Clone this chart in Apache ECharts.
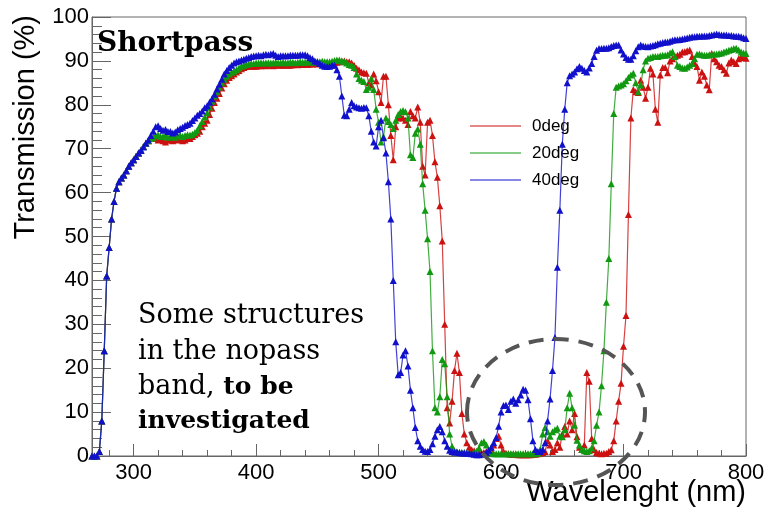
<!DOCTYPE html>
<html><head><meta charset="utf-8">
<script src="https://cdn.jsdelivr.net/npm/echarts@6/dist/echarts.min.js"></script>
<style>html,body{margin:0;padding:0;background:#fff}#c{width:767px;height:509px}</style>
</head><body><div id="c"></div>
<script>
const wavelength = [
266,268,270,272,274,276,278,280,282,284,286,288,290,292,294,296,298,300,302,304,306,308,310,312,314,316,
318,320,322,324,326,328,330,332,334,336,338,340,342,344,346,348,350,352,354,356,358,360,
362,364,366,368,370,372,374,376,378,380,382,384,386,388,390,392,394,396,398,400,
402,404,406,408,410,412,414,416,418,420,422,424,426,428,430,432,434,436,438,440,442,444,446,448,450,452,454,456,458,460,
462,464,466,468,470,472,474,476,478,480,482,484,486,488,490,492,494,496,498,500,
502,504,506,508,510,512,514,516,518,520,522,524,526,528,530,532,534,536,538,540,
542,544,546,548,550,552,554,556,558,560,562,564,566,568,570,572,574,576,578,580,
582,584,586,588,590,592,594,596,598,600,602,604,606,608,610,612,614,616,618,620,
622,624,626,628,630,632,634,636,638,640,642,644,646,648,650,652,654,656,658,660,
662,664,666,668,670,672,674,676,678,680,682,684,686,688,690,692,694,696,698,700,
702,704,706,708,710,712,714,716,718,720,722,724,726,728,730,732,734,736,738,740,
742,744,746,748,750,752,754,756,758,760,762,764,766,768,770,772,774,776,778,780,
782,784,786,788,790,792,794,796,798,800];

const tr0 = [
0,0,0,1,8,24,41,47.5,54,58,61,62.5,63.3,64,65,66,66.8,67.5,68.3,69,69.7,70.5,71.2,71.8,72.3,72.5,
72.3,72,72.2,71.8,71.5,72,72,71.8,72.2,72,72.3,71.8,72,72.5,72.3,72.8,73.2,73.5,74,75,75.8,76.5,
77.8,79.2,80.5,81.5,82.6,83.8,84.8,85.6,86.2,86.6,87,87.5,87.8,88.2,88.5,88.7,88.8,88.8,88.8,88.8,
88.9,88.9,89,88.9,89,89,88.9,89,89.1,89,89,89.1,89,89,89.1,89.2,89.1,89.2,89.2,89.3,89.2,89.3,89.3,89.4,89.3,89.4,89.4,89.4,89.5,89.4,
89.5,89.6,89.7,89.8,89.9,90,89.8,89.8,89.5,89,88.3,88,87.5,87.3,87.2,85,84.5,87,85.5,83,
80.5,86.5,86.5,80,73,67.5,75,77,77.3,77,76.5,75.5,78.5,77.5,77,79.5,76,66,64,76,
76.5,73,67,63.5,57,49,30,11,7.5,12.5,19.5,23.4,19,9.7,5,3,2,1.4,1.2,1,
0.8,0.8,0.8,1,1.2,1.5,2.5,4,4.5,2.5,1,0.6,0.5,0.4,0.4,0.4,0.3,0.3,0.3,0.3,
0.3,0.3,0.4,0.4,0.5,0.6,0.8,1,3.5,2.5,1,1.5,3,2,5,6.7,5,8,6,9.7,
4.4,2,1.5,2.5,19,17,4,1.4,0.8,0.6,0.5,0.6,0.6,1,1.4,3.5,8,12.5,16.6,25,
32,55,77,83.5,83,82.8,85.6,84,81.5,84,88.3,87,79,76,86.8,88.5,88.5,87.3,90,90.5,
91,91.3,91.5,92,92.1,92.3,92.5,91,89.5,88.7,85.6,87.5,86.5,84.5,83.4,91.7,90.5,89.8,89,88.7,
88,87.2,89.5,90.2,89.8,89.4,90.5,91,90.8,90.6];

const tr20 = [
0,0,0,1,8,24,41,47.5,54,58,61,62.5,63.3,64,65,66,66.8,67.5,68.3,69,69.7,70.5,71.2,71.8,72.3,72.5,
73,73.2,72.8,72.8,73,72.6,72.7,72.8,72.6,72.9,73,72.8,73,73.2,73.1,73.3,73.7,74.2,75.2,76.2,77.2,78.2,
79.5,80.8,82,83,84,85,85.8,86.5,87,87.4,87.7,88,88.4,88.8,89,89.2,89.3,89.4,89.4,89.5,
89.5,89.6,89.5,89.6,89.6,89.5,89.6,89.7,89.6,89.6,89.7,89.6,89.6,89.7,89.7,89.6,89.7,89.8,89.7,89.7,89.8,89.8,89.7,89.8,89.8,89.8,89.9,89.8,89.8,89.8,
89.9,90.1,90.2,90.2,90,89.8,89.5,89.2,89,88.5,87,86,85.6,85.3,83.5,84,86,83.5,79,76,
71.5,72.7,77,76.2,75.5,74.6,76.5,77.8,78.5,78.7,78.4,77,68.6,68,73.5,74.5,71,62,56,49.5,
42,24,11,10,13.5,22,21,13.5,5,2.2,1.2,0.9,0.8,0.8,0.8,0.7,0.7,0.7,0.8,1,
1.8,3,3.3,2.5,1.2,0.7,0.5,0.5,0.5,0.5,0.5,0.5,0.5,0.5,0.5,0.5,0.5,0.5,0.5,0.5,
0.5,0.5,0.5,0.5,0.6,1.5,5,6.5,5.5,4.5,5.5,6,6.3,4.5,4.4,6,11,14.3,11,7,
3.6,2.5,1.5,1.2,1,1.2,1.8,3.5,7,10,16,24,35,45,62,78,84,84.3,84.5,84.8,
85.5,86.2,86.8,87.2,85,83,84.5,88,90,90.6,90.8,91,91,91,91.2,91.3,91.3,91.4,91.8,92.1,
91,89,88.7,88.4,88.3,88.6,89,89.4,90.5,91.5,91.6,91.4,91.3,91.3,91.4,91.5,91.6,91.6,91.7,91.8,
92,92.2,92.4,92.6,92.8,92.9,92.5,92,91.8,91.7];

const tr40 = [
0,0,0,1,8,24,41,47.5,54,58,61,62.5,63.3,64,65,66,66.8,67.5,68.2,69,69.6,70.4,71.3,72,73,74,
75,75.2,74.6,74.2,74.4,73.9,73.9,73.6,73.8,74.3,74.6,74.9,75.3,75.5,75.8,76.4,77,77.6,78,78.6,79.3,79.8,
80.6,81.4,82.4,83.6,84.7,85.8,87,87.8,88.5,89,89.5,89.8,90,90.2,90.4,90.6,90.8,91,91.1,91.2,
91.3,91.2,91.4,91.5,91.4,91.6,91.7,91.3,91,91.2,91.2,91.2,91.2,91.3,91.3,91.3,91.3,91.4,91.4,91.4,91.2,90.8,90.5,90,89.8,89.4,89,88.8,88.7,88.8,
89,89,88,86.5,82,77.6,77.5,79,80.5,79.8,79.5,79.3,79.2,79.4,79.3,77.5,74,71.5,70.6,75,
76.5,72.5,69,62.5,54,40,26,18.5,19,23,24,20.5,15,11,6.5,3.5,2.2,1.5,1.1,1,
1.5,2.8,4.5,6,6.7,5.5,3.5,2.2,1.3,1,0.9,0.9,0.8,0.7,0.7,0.6,0.6,0.5,0.4,0.3,
0.3,0.4,0.5,0.8,1.3,2,3,4.2,6.8,10,11.5,11.6,10.6,12.5,13,12,12.8,13.9,15.2,15,
12.8,8.5,3.5,1.5,1,1,1.5,3,8,13,19.5,27,43,56,71,79,85,86.6,87,87.5,
88.2,88.7,88.3,87.8,87.5,88.4,89.4,91,92.4,92.8,92.8,92.9,92.9,93,93.3,93.5,93.6,93.6,92.5,91.6,
90.8,90.4,90.4,91.2,92.3,93.2,93.6,93.4,93.3,93.2,93.4,93.5,93.7,93.9,94,94.2,94.3,94.3,94.5,94.7,
94.8,94.8,94.9,95,95.1,95.2,95.4,95.5,95.5,95.6,95.6,95.7,95.7,95.7,95.8,95.9,96,96.1,96,95.9,
95.9,95.9,95.8,95.8,95.7,95.6,95.6,95.5,95.3,95.1];

const seriesNames = ['0deg', '20deg', '40deg'];
const seriesColors = ['#cc1111', '#119911', '#1111cc'];
const xMajorTicks = [300, 400, 500, 600, 700, 800];
const xMinorTicks = [280,320,340,360,380,420,440,460,480,520,540,560,580,620,640,660,680,720,740,760,780];
const yTicks = [0, 10, 20, 30, 40, 50, 60, 70, 80, 90, 100];

const chart = echarts.init(document.getElementById('c'), null, {renderer: 'canvas'});
const allY = [tr0, tr20, tr40];
const series = allY.map((ys, k) => ({
  name: seriesNames[k],
  type: 'line',
  xAxisIndex: 0,
  data: wavelength.map((w, i) => [w, ys[i]]),
  symbol: 'triangle',
  symbolSize: 7,
  showSymbol: true,
  color: seriesColors[k],
  itemStyle: {color: seriesColors[k]},
  lineStyle: {width: 1.2, color: seriesColors[k], opacity: 0.8},
  z: 2 + k
}));

const axisGray = '#666';
const labelFont = {fontFamily: 'Liberation Sans', fontSize: 22, color: '#000'};

chart.setOption({
  animation: false,
  backgroundColor: '#fff',
  grid: {left: 92, right: 21, top: 17, bottom: 53, show: true, borderColor: axisGray, borderWidth: 1, outerBoundsMode: 'none'},
  xAxis: [{
    type: 'value', min: 266, max: 800, position: 'bottom',
    axisLine: {show: true, onZero: false, lineStyle: {color: axisGray}},
    axisTick: {show: true, inside: true, length: 12, customValues: xMajorTicks, lineStyle: {color: axisGray}},
    axisLabel: Object.assign({customValues: xMajorTicks, margin: 6}, labelFont),
    splitLine: {show: false}
  }, {
    type: 'value', min: 266, max: 800, position: 'bottom',
    axisLine: {show: false, onZero: false},
    axisTick: {show: true, inside: true, length: 6, customValues: xMinorTicks, lineStyle: {color: axisGray}},
    axisLabel: {show: false},
    splitLine: {show: false}
  }],
  yAxis: {
    type: 'value', min: 0, max: 100, interval: 10,
    axisLine: {show: true, onZero: false, lineStyle: {color: axisGray}},
    axisTick: {show: true, inside: true, length: 19, lineStyle: {color: axisGray}},
    minorTick: {show: true, splitNumber: 5, length: 10, lineStyle: {color: axisGray}},
    axisLabel: Object.assign({margin: 3, customValues: yTicks}, labelFont),
    splitLine: {show: false}
  },
  legend: {
    data: seriesNames,
    orient: 'vertical',
    left: 465, top: 112,
    icon: 'rect',
    itemWidth: 51, itemHeight: 1.2,
    itemGap: 9,
    textStyle: {fontFamily: 'Liberation Sans', fontSize: 17, color: '#000', lineHeight: 18, padding: [0, 0, 0, 6]}
  },
  series: series,
  graphic: [
    {type: 'text', x: 97, y: 30, z: 50,
     style: {text: 'Shortpass', fontFamily: 'DejaVu Serif', fontWeight: 'bold', fontSize: 28, fill: '#000'}},
    {type: 'text', x: 11, y: 15, rotation: Math.PI / 2, z: 50,
     style: {text: 'Transmission (%)', fontFamily: 'Liberation Sans', fontSize: 29, fill: '#000', align: 'right', verticalAlign: 'top'}},
    {type: 'text', x: 746, y: 478, z: 50,
     style: {text: 'Wavelenght (nm)', fontFamily: 'Liberation Sans', fontSize: 29, fill: '#000', align: 'right', verticalAlign: 'top'}},
    {type: 'text', x: 138, y: 316, z: 50,
     style: {text: 'Some structures', fontFamily: 'DejaVu Serif', fontSize: 27, fill: '#000', verticalAlign: 'middle'}},
    {type: 'text', x: 138, y: 352, z: 50,
     style: {text: 'in the nopass', fontFamily: 'DejaVu Serif', fontSize: 27, fill: '#000', verticalAlign: 'middle'}},
    {type: 'text', x: 138, y: 387, z: 50,
     style: {text: '{n|band, }{b|to be}', verticalAlign: 'middle',
       rich: {n: {fontFamily: 'DejaVu Serif', fontSize: 27, fill: '#000'}, b: {fontFamily: 'DejaVu Serif', fontSize: 25, fontWeight: 'bold', fill: '#000'}}}},
    {type: 'text', x: 138, y: 421, z: 50,
     style: {text: 'investigated', fontFamily: 'DejaVu Serif', fontWeight: 'bold', fontSize: 25, fill: '#000', verticalAlign: 'middle'}},
    {type: 'ellipse', z: 60,
     shape: {cx: 556, cy: 412, rx: 89, ry: 73},
     style: {fill: 'none', stroke: '#555', lineWidth: 4, lineDash: [15, 10]}}
  ]
});
</script>
</body></html>
